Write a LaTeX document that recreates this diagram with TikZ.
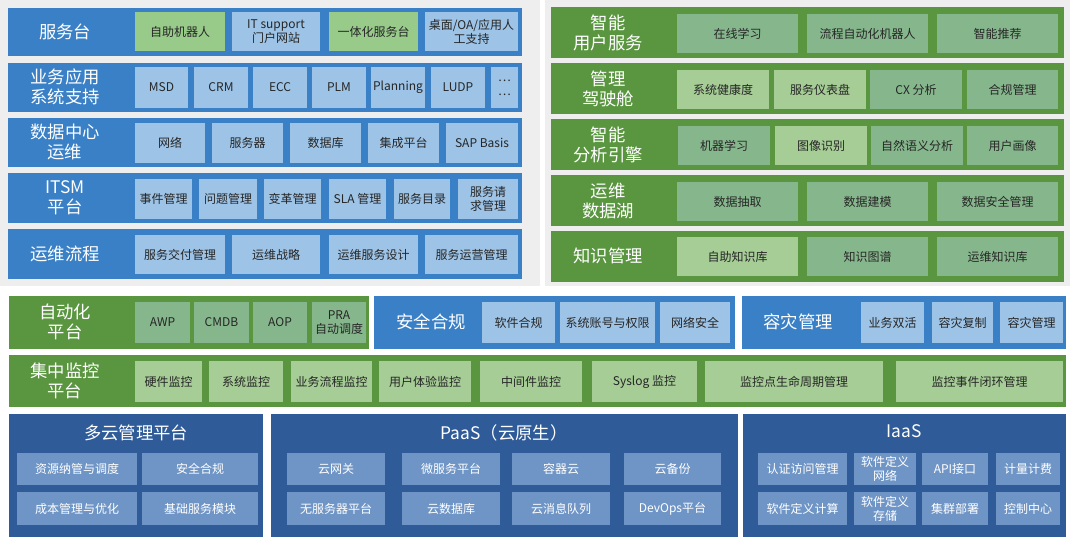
\documentclass[tikz,border=0pt]{standalone}
\usepackage{fontspec}
\setmainfont{Noto Sans CJK SC}
\definecolor{bandblue}{HTML}{3A80C6}
\definecolor{itemblue}{HTML}{9DC3E6}
\definecolor{itemgreen}{HTML}{98CB8A}
\definecolor{bandgreen}{HTML}{5A9640}
\definecolor{lightgreen}{HTML}{A5CD95}
\definecolor{darkgreen}{HTML}{86B78C}
\definecolor{deepblue}{HTML}{2F5C99}
\definecolor{deepitem}{HTML}{6F95C6}
\definecolor{backgray}{HTML}{EEEEEE}
% box from corner (#3,#4) to corner (#5,#6), in pixels
\newcommand{\cell}[7][]{%
  \node[#1,minimum width={(#5-#3)*0.75pt},minimum height={(#6-#4)*0.75pt}]
    (#2) at ({(#3+#5)/2},{(#4+#6)/2}) {#7};}
\begin{document}
\begin{tikzpicture}[x=0.75pt,y=-0.75pt,
  band/.style={fill=#1,inner sep=0},
  lab/.style={text=white,font=\fontsize{13}{15}\selectfont,align=center},
  item/.style={fill=#1,inner sep=0,align=center,text=black!85,font=\fontsize{9}{10.5}\selectfont},
  ditem/.style={fill=deepitem,inner sep=0,align=center,text=white,font=\fontsize{9}{10.5}\selectfont}]
\useasboundingbox (0,0) rectangle (1070,537);
\fill[backgray] (0,0) rectangle (540,286);
\fill[backgray] (545,0) rectangle (1070,286);
% top left
\cell[band=bandblue]{r1}{8}{8}{522}{56}{}
\cell[band=bandblue]{r2}{8}{63}{522}{112}{}
\cell[band=bandblue]{r3}{8}{118}{522}{167}{}
\cell[band=bandblue]{r4}{8}{173}{522}{223}{}
\cell[band=bandblue]{r5}{8}{229}{522}{279}{}
\node[lab] (l1) at (65,32) {服务台};
\node[lab] (l2) at (65,87) {业务应用\\系统支持};
\node[lab] (l3) at (65,142) {数据中心\\运维};
\node[lab] (l4) at (65,198) {ITSM\\平台};
\node[lab] (l5) at (65,254) {运维流程};
\cell[item=itemgreen]{a1}{135}{12}{225}{51}{自助机器人}
\cell[item=itemblue]{a2}{232}{12}{320}{51}{IT support\\门户网站}
\cell[item=itemgreen]{a3}{329}{12}{418}{51}{一体化服务台}
\cell[item=itemblue]{a4}{425}{12}{518}{51}{桌面/OA/应用人\\工支持}
\cell[item=itemblue]{b1}{135}{67}{188}{108}{MSD}
\cell[item=itemblue]{b2}{194}{67}{248}{108}{CRM}
\cell[item=itemblue]{b3}{253}{67}{307}{108}{ECC}
\cell[item=itemblue]{b4}{312}{67}{366}{108}{PLM}
\cell[item=itemblue]{b5}{371}{67}{425}{108}{Planning}
\cell[item=itemblue]{b6}{431}{67}{485}{108}{LUDP}
\cell[item=itemblue]{b7}{491}{67}{518}{108}{…\\…}
\cell[item=itemblue]{c1}{135}{123}{205}{163}{网络}
\cell[item=itemblue]{c2}{212}{123}{283}{163}{服务器}
\cell[item=itemblue]{c3}{290}{123}{361}{163}{数据库}
\cell[item=itemblue]{c4}{368}{123}{439}{163}{集成平台}
\cell[item=itemblue]{c5}{446}{123}{518}{163}{SAP Basis}
\cell[item=itemblue]{d1}{135}{179}{192}{219}{事件管理}
\cell[item=itemblue]{d2}{199}{179}{257}{219}{问题管理}
\cell[item=itemblue]{d3}{264}{179}{321}{219}{变革管理}
\cell[item=itemblue]{d4}{329}{179}{386}{219}{SLA 管理}
\cell[item=itemblue]{d5}{394}{179}{450}{219}{服务目录}
\cell[item=itemblue]{d6}{458}{179}{518}{219}{服务请\\求管理}
\cell[item=itemblue]{e1}{135}{235}{225}{274}{服务交付管理}
\cell[item=itemblue]{e2}{232}{235}{320}{274}{运维战略}
\cell[item=itemblue]{e3}{329}{235}{418}{274}{运维服务设计}
\cell[item=itemblue]{e4}{425}{235}{518}{274}{服务运营管理}
% top right
\cell[band=bandgreen]{s1}{551}{7}{1064}{58}{}
\cell[band=bandgreen]{s2}{551}{63}{1064}{114}{}
\cell[band=bandgreen]{s3}{551}{119}{1064}{170}{}
\cell[band=bandgreen]{s4}{551}{175}{1064}{226}{}
\cell[band=bandgreen]{s5}{551}{231}{1064}{282}{}
\node[lab] (m1) at (608,33) {智能\\用户服务};
\node[lab] (m2) at (608,89) {管理\\驾驶舱};
\node[lab] (m3) at (608,145) {智能\\分析引擎};
\node[lab] (m4) at (608,201) {运维\\数据湖};
\node[lab] (m5) at (608,256) {知识管理};
\cell[item=darkgreen]{f1}{677}{14}{798}{53}{在线学习}
\cell[item=darkgreen]{f2}{807}{14}{928}{53}{流程自动化机器人}
\cell[item=darkgreen]{f3}{937}{14}{1058}{53}{智能推荐}
\cell[item=lightgreen]{g1}{677}{70}{769}{109}{系统健康度}
\cell[item=lightgreen]{g2}{774}{70}{866}{109}{服务仪表盘}
\cell[item=darkgreen]{g3}{870}{70}{962}{109}{CX 分析}
\cell[item=darkgreen]{g4}{967}{70}{1058}{109}{合规管理}
\cell[item=darkgreen]{h1}{678}{126}{770}{165}{机器学习}
\cell[item=lightgreen]{h2}{775}{126}{867}{165}{图像识别}
\cell[item=darkgreen]{h3}{871}{126}{963}{165}{自然语义分析}
\cell[item=darkgreen]{h4}{967}{126}{1058}{165}{用户画像}
\cell[item=darkgreen]{i1}{677}{182}{798}{221}{数据抽取}
\cell[item=darkgreen]{i2}{807}{182}{928}{221}{数据建模}
\cell[item=darkgreen]{i3}{937}{182}{1058}{221}{数据安全管理}
\cell[item=lightgreen]{j1}{677}{237}{798}{276}{自助知识库}
\cell[item=darkgreen]{j2}{807}{237}{928}{276}{知识图谱}
\cell[item=darkgreen]{j3}{937}{237}{1058}{276}{运维知识库}
% middle rows
\cell[band=bandgreen]{auto}{9}{296}{369}{349}{}
\node[lab] (autol) at (65,322) {自动化\\平台};
\cell[item=darkgreen]{k1}{135}{302}{190}{343}{AWP}
\cell[item=darkgreen]{k2}{194}{302}{249}{343}{CMDB}
\cell[item=darkgreen]{k3}{253}{302}{307}{343}{AOP}
\cell[item=darkgreen]{k4}{312}{302}{366}{343}{PRA\\自动调度}
\cell[band=bandblue]{sec}{374}{296}{735}{349}{}
\node[lab] (secl) at (431,322) {安全合规};
\cell[item=itemblue]{n1}{482}{302}{555}{343}{软件合规}
\cell[item=itemblue]{n2}{560}{302}{655}{343}{系统账号与权限}
\cell[item=itemblue]{n3}{660}{302}{730}{343}{网络安全}
\cell[band=bandblue]{dr}{742}{296}{1066}{349}{}
\node[lab] (drl) at (798,322) {容灾管理};
\cell[item=itemblue]{o1}{861}{302}{924}{343}{业务双活}
\cell[item=itemblue]{o2}{932}{302}{993}{343}{容灾复制}
\cell[item=itemblue]{o3}{1000}{302}{1063}{343}{容灾管理}
\cell[band=bandgreen]{mon}{9}{355}{1066}{407}{}
\node[lab] (monl) at (65,381) {集中监控\\平台};
\cell[item=lightgreen]{p1}{135}{361}{202}{402}{硬件监控}
\cell[item=lightgreen]{p2}{209}{361}{283}{402}{系统监控}
\cell[item=lightgreen]{p3}{291}{361}{372}{402}{业务流程监控}
\cell[item=lightgreen]{p4}{379}{361}{471}{402}{用户体验监控}
\cell[item=lightgreen]{p5}{480}{361}{582}{402}{中间件监控}
\cell[item=lightgreen]{p6}{592}{361}{697}{402}{Syslog 监控}
\cell[item=lightgreen]{p7}{705}{361}{883}{402}{监控点生命周期管理}
\cell[item=lightgreen]{p8}{896}{361}{1063}{402}{监控事件闭环管理}
% bottom
\cell[band=deepblue]{mc}{9}{414}{263}{537}{}
\node[lab] (mcl) at (136,433) {多云管理平台};
\cell[ditem]{q1}{17}{453}{137}{485}{资源纳管与调度}
\cell[ditem]{q2}{142}{453}{258}{485}{安全合规}
\cell[ditem]{q3}{17}{492}{137}{525}{成本管理与优化}
\cell[ditem]{q4}{142}{492}{258}{525}{基础服务模块}
\cell[band=deepblue]{paas}{271}{414}{738}{537}{}
\node[lab] (paasl) at (504,433) {PaaS（云原生）};
\cell[ditem]{t1}{287}{453}{385}{485}{云网关}
\cell[ditem]{t2}{402}{453}{500}{485}{微服务平台}
\cell[ditem]{t3}{512}{453}{610}{485}{容器云}
\cell[ditem]{t4}{624}{453}{721}{485}{云备份}
\cell[ditem]{t5}{287}{492}{385}{525}{无服务器平台}
\cell[ditem]{t6}{402}{492}{500}{525}{云数据库}
\cell[ditem]{t7}{512}{492}{610}{525}{云消息队列}
\cell[ditem]{t8}{624}{492}{721}{525}{DevOps平台}
\cell[band=deepblue]{iaas}{743}{414}{1066}{537}{}
\node[lab] (iaasl) at (904,431) {IaaS};
\cell[ditem]{u1}{758}{453}{847}{485}{认证访问管理}
\cell[ditem]{u2}{854}{453}{916}{485}{软件定义\\网络}
\cell[ditem]{u3}{922}{453}{988}{485}{API接口}
\cell[ditem]{u4}{996}{453}{1060}{485}{计量计费}
\cell[ditem]{u5}{758}{492}{847}{525}{软件定义计算}
\cell[ditem]{u6}{854}{492}{916}{525}{软件定义\\存储}
\cell[ditem]{u7}{922}{492}{988}{525}{集群部署}
\cell[ditem]{u8}{996}{492}{1060}{525}{控制中心}
\end{tikzpicture}
\end{document}
